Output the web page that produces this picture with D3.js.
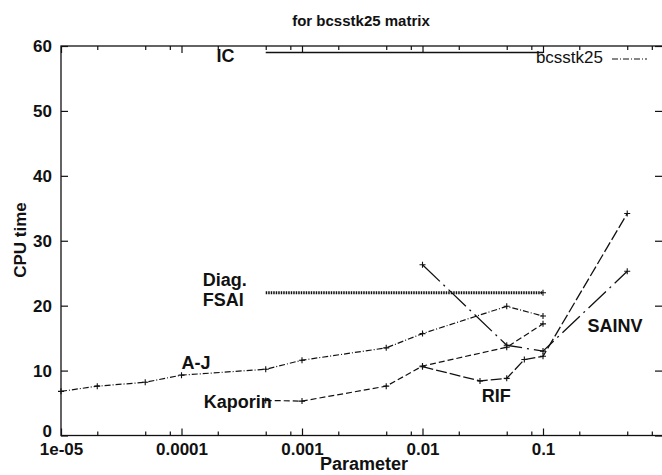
<!DOCTYPE html>
<html>
<head>
<meta charset="utf-8">
<script src="https://cdn.jsdelivr.net/npm/d3@7"></script>
<style>
  body { margin: 0; background: #fff; }
  svg { display: block; font-family: "Liberation Sans", Arial, sans-serif; }
</style>
</head>
<body>
<div class="canvas"></div>
<script>
// values (CPU time vs parameter)
const icParams = [0.0005, 0.1];
const icTimes = [59, 59];
const fsaiParams = [0.0005, 0.001, 0.005, 0.01, 0.05, 0.1];
const fsaiTimes = [22, 22, 22, 22, 22, 22];
const ajParams = [1e-5, 2e-5, 5e-5, 1e-4, 5e-4, 1e-3, 5e-3, 1e-2, 5e-2, 0.1];
const ajTimes = [6.8, 7.6, 8.2, 9.3, 10.2, 11.6, 13.5, 15.7, 19.9, 18.4];
const kaporinParams = [0.0005, 0.001, 0.005, 0.01, 0.05, 0.1];
const kaporinTimes = [5.4, 5.3, 7.6, 10.7, 13.6, 17.2];
const rifParams = [0.01, 0.03, 0.05, 0.07, 0.1, 0.5];
const rifTimes = [10.6, 8.4, 8.8, 11.7, 12.2, 34.2];
const sainvParams = [0.01, 0.05, 0.1, 0.5];
const sainvTimes = [26.3, 13.9, 13.0, 25.3];

const xTicks = [1e-5, 1e-4, 1e-3, 1e-2, 1e-1];
const xTickLabels = ['1e-05', '0.0001', '0.001', '0.01', '0.1'];
const yTicks = [0, 10, 20, 30, 40, 50, 60];

const dims = { width: 662, height: 475 };

const svg = d3.select('.canvas')
            .append('svg')
            .attr('width', dims.width)
            .attr('height', dims.height);

const x = d3.scaleLog().domain([1e-5, 1]).range([61, 663.5]);
const y = d3.scaleLinear().domain([0, 60]).range([435.5, 46]);

// minor log ticks (2, 5, 8 of every decade)
const minorTicks = [];
xTicks.forEach(t => [2, 5, 8].forEach(m => minorTicks.push(t * m)));

// frame
svg.append('rect')
   .attr('x', 61).attr('y', 46)
   .attr('width', 603).attr('height', 389.5)
   .attr('fill', 'none')
   .attr('stroke', '#111')
   .attr('stroke-width', 1.3);

const styleAxis = g => {
    g.select('.domain').remove();
    g.selectAll('line').attr('stroke', '#111').attr('stroke-width', 1.2);
    g.selectAll('text').attr('fill', '#111')
     .style('font-size', '17px').style('font-weight', 'bold');
};

// bottom and top axes
svg.append('g')
   .attr('transform', 'translate(0,435.5)')
   .call(d3.axisBottom(x).tickValues(xTicks)
          .tickFormat((d, i) => xTickLabels[i])
          .tickSizeInner(-7).tickSizeOuter(0).tickPadding(7.5))
   .call(styleAxis);
svg.append('g')
   .attr('transform', 'translate(0,435.5)')
   .call(d3.axisBottom(x).tickValues(minorTicks).tickFormat('')
          .tickSizeInner(-4).tickSizeOuter(0))
   .call(styleAxis);
svg.append('g')
   .attr('transform', 'translate(0,46)')
   .call(d3.axisTop(x).tickValues(xTicks).tickFormat('')
          .tickSizeInner(-7).tickSizeOuter(0))
   .call(styleAxis);
svg.append('g')
   .attr('transform', 'translate(0,46)')
   .call(d3.axisTop(x).tickValues(minorTicks).tickFormat('')
          .tickSizeInner(-4).tickSizeOuter(0))
   .call(styleAxis);

// left and right axes
const yAxisG = svg.append('g')
   .attr('transform', 'translate(61,0)')
   .call(d3.axisLeft(y).tickValues(yTicks)
          .tickSizeInner(-7).tickSizeOuter(0).tickPadding(9))
   .call(styleAxis);
// the "0" sits just above the "1e-05" label
yAxisG.selectAll('text').filter(d => d === 0).attr('dy', '0.05em');

svg.append('g')
   .attr('transform', 'translate(662,0)')
   .call(d3.axisRight(y).tickValues(yTicks).tickFormat('')
          .tickSizeInner(-7).tickSizeOuter(0))
   .call(styleAxis);

// title + axis titles
svg.append('text')
   .attr('x', 361).attr('y', 26)
   .attr('text-anchor', 'middle')
   .style('font-size', '15px').style('font-weight', 'bold')
   .attr('fill', '#111')
   .text('for bcsstk25 matrix');
svg.append('text')
   .attr('x', 364).attr('y', 470)
   .attr('text-anchor', 'middle')
   .style('font-size', '18px').style('font-weight', 'bold')
   .attr('fill', '#111')
   .text('Parameter');
svg.append('text')
   .attr('transform', 'translate(26,240) rotate(-90)')
   .attr('text-anchor', 'middle')
   .style('font-size', '17px').style('font-weight', 'bold')
   .attr('fill', '#111')
   .text('CPU time');

// curves
const zip = (ps, ts) => ps.map((p, i) => ({ p, t: ts[i] }));
const series = [
    { name: 'IC', data: zip(icParams, icTimes), dash: null, width: 1.4, marks: 'none' },
    { name: 'Diag. FSAI', data: zip(fsaiParams, fsaiTimes), dash: '1.5,1', width: 3, marks: 'last' },
    { name: 'A-J', data: zip(ajParams, ajTimes), dash: '6,2,1,2', width: 1.2, marks: 'all' },
    { name: 'Kaporin', data: zip(kaporinParams, kaporinTimes), dash: '6,3', width: 1.2, marks: 'all' },
    { name: 'RIF', data: zip(rifParams, rifTimes), dash: '11,3', width: 1.3, marks: 'all' },
    { name: 'SAINV', data: zip(sainvParams, sainvTimes), dash: '24,5,2,5', width: 1.3, marks: 'all' }
];

const line = d3.line().x(d => x(d.p)).y(d => y(d.t));

const graph = svg.append('g');
series.forEach(s => {
    graph.append('path')
         .attr('d', line(s.data))
         .attr('fill', 'none')
         .attr('stroke', '#111')
         .attr('stroke-width', s.width)
         .attr('stroke-dasharray', s.dash);
    const pts = s.marks === 'all' ? s.data : s.marks === 'last' ? s.data.slice(-1) : [];
    graph.selectAll(null)
         .data(pts)
         .enter().append('path')
         .attr('d', 'M-3,0H3M0,-3V3')
         .attr('transform', d => `translate(${x(d.p)},${y(d.t)})`)
         .attr('stroke', '#111')
         .attr('stroke-width', 1.1);
});

// curve labels (data coordinates)
const labels = [
    { text: 'IC', p: 1.95e-4, t: 58.5 },
    { text: 'Diag.', p: 1.5e-4, t: 24.0 },
    { text: 'FSAI', p: 1.5e-4, t: 20.9 },
    { text: 'A-J', p: 1e-4, t: 11.3 },
    { text: 'Kaporin', p: 1.53e-4, t: 5.2 },
    { text: 'RIF', p: 0.031, t: 6.1 },
    { text: 'SAINV', p: 0.234, t: 17.0 }
];
svg.selectAll('.lbl')
   .data(labels)
   .enter().append('text')
   .attr('class', 'lbl')
   .attr('x', d => x(d.p))
   .attr('y', d => y(d.t))
   .attr('dy', '0.36em')
   .style('font-size', '18px').style('font-weight', 'bold')
   .attr('fill', '#111')
   .text(d => d.text);

// key
svg.append('text')
   .attr('x', 603).attr('y', 63)
   .attr('text-anchor', 'end')
   .style('font-size', '17px')
   .attr('fill', '#111')
   .text('bcsstk25');
svg.append('line')
   .attr('x1', 612).attr('x2', 647)
   .attr('y1', 59).attr('y2', 59)
   .attr('stroke', '#111')
   .attr('stroke-width', 1.2)
   .attr('stroke-dasharray', '6,2,1,2');
</script>
</body>
</html>
